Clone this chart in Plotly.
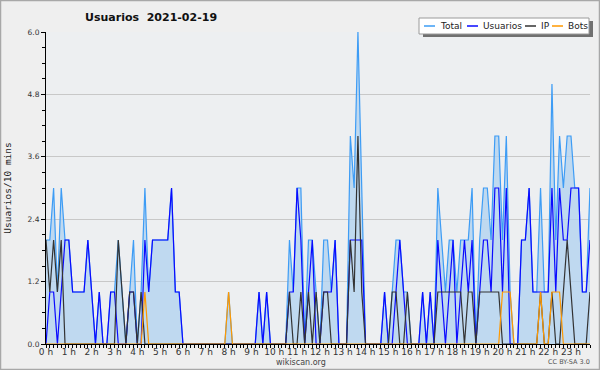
import plotly.graph_objects as go

# ---------------- data (10-minute slots, 24 hours) ----------------
hours = list(range(24))
hour_labels = [f"{h} h" for h in hours]
slots = list(range(144))

total = [
    2, 2, 3, 1, 3, 2,   2, 1, 1, 1, 1, 2,   1, 0, 1, 0, 0, 1,   1, 2, 1, 0, 1, 2,
    0, 1, 3, 1, 2, 2,   2, 2, 2, 3, 1, 1,   0, 0, 0, 0, 0, 0,   0, 0, 0, 0, 0, 0,
    1, 0, 0, 0, 0, 0,   0, 0, 1, 0, 1, 0,   0, 0, 0, 0, 2, 1,   3, 3, 0, 2, 2, 1,
    0, 2, 2, 1, 2, 0,   0, 0, 4, 3, 6, 3,   0, 0, 0, 0, 0, 1,   0, 1, 2, 2, 1, 1,
    0, 0, 0, 1, 0, 1,   0, 3, 2, 1, 2, 2,   1, 2, 2, 2, 3, 0,   2, 3, 3, 2, 4, 4,
    2, 4, 1, 0, 0, 2,   2, 3, 1, 1, 3, 1,   1, 5, 2, 4, 3, 4,   4, 3, 3, 1, 1, 3,
]
usuarios = [
    0, 1, 1, 0, 1, 2,   2, 1, 1, 1, 1, 2,   1, 0, 1, 0, 0, 1,   1, 0, 0, 0, 1, 1,
    0, 0, 2, 1, 2, 2,   2, 2, 2, 3, 1, 1,   0, 0, 0, 0, 0, 0,   0, 0, 0, 0, 0, 0,
    0, 0, 0, 0, 0, 0,   0, 0, 1, 0, 1, 0,   0, 0, 0, 0, 1, 1,   3, 2, 0, 1, 2, 0,
    0, 1, 1, 1, 2, 0,   0, 0, 2, 2, 2, 2,   0, 0, 0, 0, 0, 1,   0, 0, 1, 2, 1, 0,
    0, 0, 0, 1, 0, 1,   0, 2, 1, 0, 1, 2,   0, 1, 2, 1, 2, 0,   1, 2, 2, 1, 3, 3,
    1, 3, 0, 0, 0, 2,   2, 3, 1, 1, 1, 1,   1, 3, 1, 3, 2, 2,   3, 3, 3, 1, 1, 2,
]
ip = [
    2, 1, 2, 1, 2, 0,   0, 0, 0, 0, 0, 0,   0, 0, 0, 0, 0, 0,   0, 2, 1, 0, 1, 1,
    0, 1, 0, 0, 0, 0,   0, 0, 0, 0, 0, 0,   0, 0, 0, 0, 0, 0,   0, 0, 0, 0, 0, 0,
    0, 0, 0, 0, 0, 0,   0, 0, 0, 0, 0, 0,   0, 0, 0, 0, 1, 0,   0, 1, 0, 1, 0, 1,
    0, 1, 1, 0, 0, 0,   0, 0, 2, 1, 4, 1,   0, 0, 0, 0, 0, 0,   0, 1, 1, 0, 0, 1,
    0, 0, 0, 0, 0, 0,   0, 1, 1, 1, 1, 1,   1, 1, 0, 1, 1, 0,   1, 1, 1, 1, 1, 1,
    0, 0, 0, 0, 0, 0,   0, 0, 0, 0, 1, 0,   0, 1, 0, 0, 1, 2,   1, 0, 0, 0, 0, 1,
]
bots = [
    0, 0, 0, 0, 0, 0,   0, 0, 0, 0, 0, 0,   0, 0, 0, 0, 0, 0,   0, 0, 0, 0, 0, 0,
    0, 0, 1, 0, 0, 0,   0, 0, 0, 0, 0, 0,   0, 0, 0, 0, 0, 0,   0, 0, 0, 0, 0, 0,
    1, 0, 0, 0, 0, 0,   0, 0, 0, 0, 0, 0,   0, 0, 0, 0, 0, 0,   0, 0, 0, 0, 0, 0,
    0, 0, 0, 0, 0, 0,   0, 0, 0, 0, 0, 0,   0, 0, 0, 0, 0, 0,   0, 0, 0, 0, 0, 0,
    0, 0, 0, 0, 0, 0,   0, 0, 0, 0, 0, 0,   0, 0, 0, 0, 0, 0,   0, 0, 0, 0, 0, 0,
    1, 1, 1, 0, 0, 0,   0, 0, 0, 0, 1, 0,   0, 1, 1, 1, 0, 0,   0, 0, 0, 0, 0, 0,
]
series_names = ["Total", "Usuarios", "IP", "Bots"]
series_colors = ["#3d9cf5", "#0a0aff", "#333333", "#ff9900"]
y_ticks = [0.0, 1.2, 2.4, 3.6, 4.8, 6.0]
y_labels = ["0.0", "1.2", "2.4", "3.6", "4.8", "6.0"]
title_text = "Usuarios\u00a0 2021-02-19"
y_title = "Usuarios/10 mins"

# ---------------- layout geometry (pixels) ----------------
W, H = 600, 370
L, R, T, B = 46, 10, 32, 26
PW, PH = W - L - R, H - T - B


def px(x):
    return (x - L) / PW


def py(y):
    return (H - B - y) / PH


FONT = "DejaVu Sans, Liberation Sans, sans-serif"

fig = go.Figure()
fig.add_trace(go.Scatter(
    x=slots, y=total, name=series_names[0], mode="lines",
    line=dict(color=series_colors[0], width=1.2),
    fill="tozeroy", fillcolor="rgba(178,210,240,0.78)", showlegend=False))
fig.add_trace(go.Scatter(
    x=slots, y=usuarios, name=series_names[1], mode="lines",
    line=dict(color=series_colors[1], width=1.2), showlegend=False))
fig.add_trace(go.Scatter(
    x=slots, y=ip, name=series_names[2], mode="lines",
    line=dict(color=series_colors[2], width=1.2), showlegend=False))
fig.add_trace(go.Scatter(
    x=slots, y=bots, name=series_names[3], mode="lines",
    line=dict(color=series_colors[3], width=1.2), showlegend=False))

# ---------------- custom legend (box with shadow) ----------------
box_x0, box_x1, box_y0, box_y1 = 419, 589, 18, 34
shapes = [
    # outer frame of the image
    dict(type="rect", xref="paper", yref="paper",
         x0=px(0.5), x1=px(W - 0.5), y0=py(H - 0.5), y1=py(0.5),
         line=dict(color="#a8a8a8", width=1.5), layer="below"),
    # legend shadow
    dict(type="rect", xref="paper", yref="paper",
         x0=px(box_x0 + 4), x1=px(box_x1 + 4), y0=py(box_y1 + 3), y1=py(box_y0 + 3),
         fillcolor="#707070", line=dict(width=0), layer="above"),
    # legend box
    dict(type="rect", xref="paper", yref="paper",
         x0=px(box_x0), x1=px(box_x1), y0=py(box_y1), y1=py(box_y0),
         fillcolor="white", line=dict(color="#9a9a9a", width=1), layer="above"),
]
annotations = []
sample_x = [424, 467, 525, 552]
label_x = [438, 481, 539, 566]
ly = (box_y0 + box_y1) / 2
for name, col, sx, lx in zip(series_names, series_colors, sample_x, label_x):
    shapes.append(dict(type="line", xref="paper", yref="paper",
                       x0=px(sx), x1=px(sx + 11), y0=py(ly), y1=py(ly),
                       line=dict(color=col, width=1.5), layer="above"))
    annotations.append(dict(text=name, xref="paper", yref="paper",
                            x=px(lx), y=py(ly), xanchor="left", yanchor="middle",
                            showarrow=False,
                            font=dict(family=FONT, size=9, color="#222")))

annotations += [
    dict(text="wikiscan.org", xref="paper", yref="paper", x=px(301), y=py(362),
         xanchor="center", yanchor="middle", showarrow=False,
         font=dict(family=FONT, size=8, color="#444")),
    dict(text="CC BY-SA 3.0", xref="paper", yref="paper", x=px(592), y=py(362),
         xanchor="right", yanchor="middle", showarrow=False,
         font=dict(family=FONT, size=6.5, color="#555")),
]

fig.update_layout(
    width=W, height=H,
    margin=dict(l=L, r=R, t=T, b=B, pad=0),
    paper_bgcolor="#efefef",
    plot_bgcolor="#edeff1",
    showlegend=False,
    title=dict(text=f"<b>{title_text}</b>", xref="container", yref="container",
               x=85 / W, xanchor="left", y=1 - 17.5 / H, yanchor="middle",
               font=dict(family=FONT, size=11, color="#111")),
    shapes=shapes,
    annotations=annotations,
)

fig.update_xaxes(
    range=[0, 143], automargin=False,
    tickmode="array", tickvals=[h * 6 for h in hours], ticktext=hour_labels,
    ticks="outside", ticklen=3, tickcolor="black", tickwidth=1,
    ticklabelstandoff=-4,
    minor=dict(dtick=1, tick0=0, ticks="outside", ticklen=3, tickcolor="black", showgrid=False),
    showline=True, linecolor="black", linewidth=1,
    showgrid=False, zeroline=False,
    tickfont=dict(family=FONT, size=9, color="#333"),
)
fig.update_yaxes(
    range=[0, 6], automargin=False,
    tickmode="array", tickvals=y_ticks, ticktext=y_labels,
    ticks="outside", ticklen=4, tickcolor="black", tickwidth=1,
    minor=dict(dtick=0.3, tick0=0, ticks="outside", ticklen=3, tickcolor="black", showgrid=False),
    showline=True, linecolor="black", linewidth=1,
    showgrid=True, gridcolor="#c8c8c8", gridwidth=1, zeroline=False,
    tickfont=dict(family=FONT, size=7.5, color="#333"),
    title=dict(text=y_title, standoff=14,
               font=dict(family="DejaVu Sans Mono, monospace", size=9.5, color="#222")),
)

fig.write_html(
    "out.html",
    config={"displayModeBar": False},
    post_script="document.body.style.margin='0';document.body.style.overflow='hidden';",
)
